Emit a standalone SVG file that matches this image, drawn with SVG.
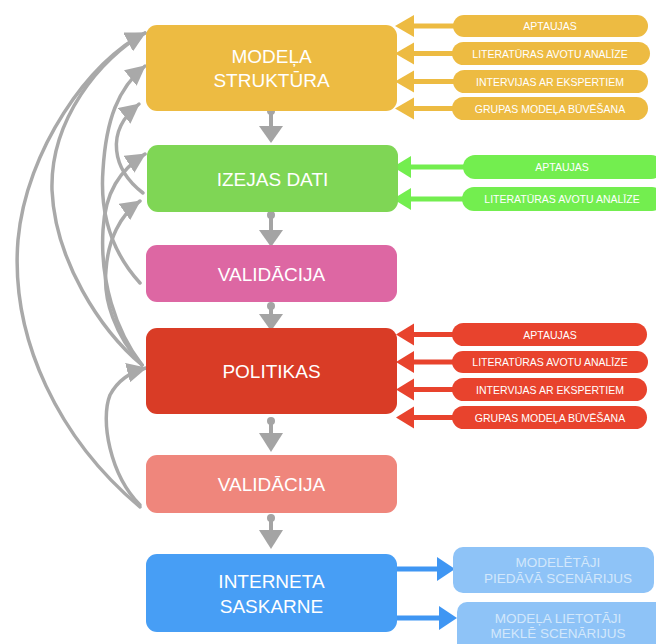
<svg xmlns="http://www.w3.org/2000/svg" width="656" height="644" viewBox="0 0 656 644">
<style>
.box text{fill:#fff;font-family:"Liberation Sans",Arial,sans-serif;font-size:19px;text-anchor:middle}
.pill text{fill:#fff;font-family:"Liberation Sans",Arial,sans-serif;font-size:10.5px;text-anchor:middle}
.bpill text{fill:#D2E7FB;font-family:"Liberation Sans",Arial,sans-serif;font-size:13.5px;text-anchor:middle}
.fb{fill:none;stroke:#A9A9A9;stroke-width:3.5;stroke-linecap:round;marker-end:url(#gh)}
.down line{stroke:#A4A4A4;stroke-width:4}
.down circle,.down polygon{fill:#A4A4A4}
.y{fill:#EDBB42}.ys{stroke:#EDBB42}
.g{fill:#73EE4F}.gs{stroke:#73EE4F}
.r{fill:#E8432D}.rs{stroke:#E8432D}
.b{fill:#3F96F3}.bs{stroke:#3F96F3}
.in line{stroke-width:5}
</style>
<defs>
<marker id="gh" markerUnits="userSpaceOnUse" markerWidth="22" markerHeight="20" refX="19" refY="10" orient="auto">
<path d="M0,0 L20,10 L0,20 Z" fill="#A9A9A9"/>
</marker>
</defs>
<rect width="656" height="644" fill="#fff"/>

<g id="connectors">
<g id="feedback">
<path class="fb" d="M140,507 C60,440 10,340 18,240 C26,150 90,60 145,33"/>
<path class="fb" d="M142,365 C100,330 55,260 52,190 C50,120 100,58 145,33"/>
<path class="fb" d="M140,283 C110,250 100,210 103,170 C106,120 118,88 145,66"/>
<path class="fb" d="M143,193 C113,170 104,132 139,104"/>
<path class="fb" d="M142,365 C115,330 100,280 103,230 C105,192 120,170 145,154"/>
<path class="fb" d="M142,365 C115,335 103,300 106,270 C108,240 120,215 140,201"/>
<path class="fb" d="M140,505 C110,475 100,420 110,395 C118,380 130,372 146,368"/>
</g>
<g class="down">
<circle cx="271" cy="111" r="4"/><line x1="271" y1="111" x2="271" y2="128"/><polygon points="259,126 283,126 271,143"/>
<circle cx="271" cy="215" r="4"/><line x1="271" y1="215" x2="271" y2="232"/><polygon points="259,230 283,230 271,247"/>
<circle cx="271" cy="306" r="4"/><line x1="271" y1="306" x2="271" y2="316"/><polygon points="259,314 283,314 271,331"/>
<circle cx="271" cy="421" r="4"/><line x1="271" y1="421" x2="271" y2="435"/><polygon points="259,433 283,433 271,452"/>
<circle cx="271" cy="518" r="4"/><line x1="271" y1="518" x2="271" y2="532"/><polygon points="259,530 283,530 271,549"/>
</g>
<g class="in">
<line class="ys" x1="410" y1="26" x2="456" y2="26"/><polygon class="y" points="395,26 414,15 414,37"/>
<line class="ys" x1="410" y1="53.5" x2="456" y2="53.5"/><polygon class="y" points="395,53.5 414,42.5 414,64.5"/>
<line class="ys" x1="410" y1="81.5" x2="456" y2="81.5"/><polygon class="y" points="395,81.5 414,70.5 414,92.5"/>
<line class="ys" x1="410" y1="108.5" x2="456" y2="108.5"/><polygon class="y" points="395,108.5 414,97.5 414,119.5"/>
<line class="gs" x1="408" y1="167" x2="466" y2="167"/><polygon class="g" points="393,167 411,156 411,178"/>
<line class="gs" x1="408" y1="199" x2="466" y2="199"/><polygon class="g" points="393,199 411,188 411,210"/>
<line class="rs" x1="410" y1="334.5" x2="455" y2="334.5"/><polygon class="r" points="396,334.5 414,323.5 414,345.5"/>
<line class="rs" x1="410" y1="362" x2="455" y2="362"/><polygon class="r" points="396,362 414,351 414,373"/>
<line class="rs" x1="410" y1="389.5" x2="455" y2="389.5"/><polygon class="r" points="396,389.5 414,378.5 414,400.5"/>
<line class="rs" x1="410" y1="417.5" x2="455" y2="417.5"/><polygon class="r" points="396,417.5 414,406.5 414,428.5"/>
<line class="bs" x1="394" y1="569" x2="440" y2="569"/><polygon class="b" points="455,569 437,557 437,581"/>
<line class="bs" x1="394" y1="618" x2="440" y2="618"/><polygon class="b" points="457,618 439,606 439,630"/>
</g>
</g>

<g id="modela" class="box"><rect x="146" y="25" width="251" height="86" rx="11" fill="#EDBB42"/><text x="271.5" y="63">MODEĻA</text><text x="271.5" y="87">STRUKTŪRA</text></g>
<g id="izejas" class="box"><rect x="147" y="145" width="251" height="67" rx="11" fill="#7FD655"/><text x="272.5" y="185.5">IZEJAS DATI</text></g>
<g id="validacija1" class="box"><rect x="146" y="245" width="251" height="57" rx="11" fill="#DD67A3"/><text x="271.5" y="280.5">VALIDĀCIJA</text></g>
<g id="politikas" class="box"><rect x="146" y="328" width="251" height="86" rx="11" fill="#D93C26"/><text x="271.5" y="378">POLITIKAS</text></g>
<g id="validacija2" class="box"><rect x="146" y="455" width="251" height="58" rx="11" fill="#EF867C"/><text x="271.5" y="491">VALIDĀCIJA</text></g>
<g id="interneta" class="box"><rect x="146" y="554" width="251" height="78" rx="11" fill="#479EF5"/><text x="271.5" y="588">INTERNETA</text><text x="271.5" y="613">SASKARNE</text></g>

<g id="y1" class="pill"><rect class="y" x="453" y="15" width="195" height="22" rx="11"/><text x="550" y="30">APTAUJAS</text></g>
<g id="y2" class="pill"><rect class="y" x="452" y="42" width="198" height="23" rx="11.5"/><text x="550" y="57.5">LITERATŪRAS AVOTU ANALĪZE</text></g>
<g id="y3" class="pill"><rect class="y" x="453" y="70" width="195" height="23" rx="11.5"/><text x="550" y="85.5">INTERVIJAS AR EKSPERTIEM</text></g>
<g id="y4" class="pill"><rect class="y" x="452" y="97" width="196" height="23" rx="11.5"/><text x="550" y="112.5">GRUPAS MODEĻA BŪVĒŠANA</text></g>

<g id="g1" class="pill"><rect class="g" x="463" y="155" width="200" height="24" rx="12"/><text x="562" y="171">APTAUJAS</text></g>
<g id="g2" class="pill"><rect class="g" x="462" y="187" width="202" height="24" rx="12"/><text x="562" y="203">LITERATŪRAS AVOTU ANALĪZE</text></g>

<g id="r1" class="pill"><rect class="r" x="452" y="323" width="195" height="23" rx="11.5"/><text x="550" y="338.5">APTAUJAS</text></g>
<g id="r2" class="pill"><rect class="r" x="452" y="351" width="196" height="22" rx="11"/><text x="550" y="366">LITERATŪRAS AVOTU ANALĪZE</text></g>
<g id="r3" class="pill"><rect class="r" x="452" y="378" width="195" height="23" rx="11.5"/><text x="550" y="393.5">INTERVIJAS AR EKSPERTIEM</text></g>
<g id="r4" class="pill"><rect class="r" x="452" y="406" width="195" height="23" rx="11.5"/><text x="550" y="421.5">GRUPAS MODEĻA BŪVĒŠANA</text></g>

<g id="b1" class="bpill"><rect x="453" y="547" width="201" height="46" rx="10" fill="#8EC3F7"/><text x="558" y="567">MODELĒTĀJI</text><text x="558" y="583">PIEDĀVĀ SCENĀRIJUS</text></g>
<g id="b2" class="bpill"><rect x="457" y="602" width="210" height="52" rx="10" fill="#8EC3F7"/><text x="558" y="623">MODEĻA LIETOTĀJI</text><text x="558" y="638">MEKLĒ SCENĀRIJUS</text></g>
</svg>
